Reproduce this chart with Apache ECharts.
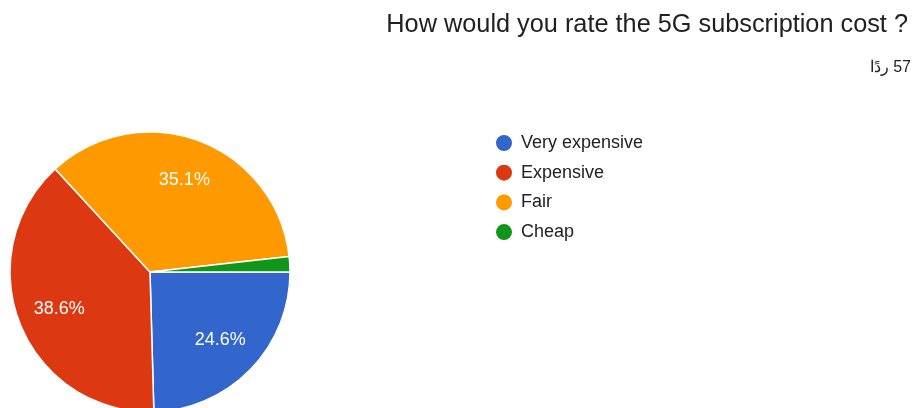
<!DOCTYPE html>
<html>
<head>
<meta charset="utf-8">
<script src="https://cdn.jsdelivr.net/npm/echarts@6/dist/echarts.min.js"></script>
<style>
  html, body { margin: 0; padding: 0; background: #fff; }
  #chart { width: 914px; height: 408px; }
</style>
</head>
<body>
<div id="chart"></div>
<script>
// Survey answers: "How would you rate the 5G subscription cost ?" (57 responses)
const categories = ['Very expensive', 'Expensive', 'Fair', 'Cheap'];
const responses = [14, 22, 20, 1];
const colors = ['#3366cc', '#dc3912', '#ff9900', '#109618'];
const titleText = 'How would you rate the 5G subscription cost ?';
const responseCountText = '57 ردًا';

const FONT = '"Liberation Sans", Arial, Helvetica, sans-serif';
const pieData = categories.map((name, i) => ({ name, value: responses[i] }));
const totalCount = responses.reduce((a, b) => a + b, 0);

const chart = echarts.init(document.getElementById('chart'), null, { renderer: 'canvas' });

chart.setOption({
  animation: false,
  color: colors,
  title: [
    {
      text: titleText,
      right: 6,
      top: 13,
      padding: 0,
      textStyle: { fontFamily: FONT, fontSize: 25.3, fontWeight: 'normal', color: '#212121' }
    },
    {
      // right-to-left caption: the RLM keeps the number on the right
      text: '\u200F' + responseCountText,
      right: 3,
      top: 60,
      padding: 0,
      textStyle: { fontFamily: FONT, fontSize: 16, fontWeight: 'normal', color: '#212121' }
    }
  ],
  legend: {
    orient: 'vertical',
    left: 489,
    top: 128,
    icon: 'circle',
    itemWidth: 18,
    itemHeight: 18,
    itemGap: 9.7,
    selectedMode: false,
    data: categories,
    textStyle: {
      fontFamily: FONT,
      fontSize: 18,
      lineHeight: 18,
      color: '#222222',
      padding: [0, 0, 0, 3]
    }
  },
  series: [
    {
      // filled slices
      type: 'pie',
      center: [150, 272],
      radius: [0, 140],
      startAngle: 0,
      clockwise: true,
      silent: true,
      label: { show: false },
      labelLine: { show: false },
      itemStyle: { borderColor: '#ffffff', borderWidth: 1.5 },
      data: pieData
    },
    {
      // transparent ring that carries the percentage labels
      type: 'pie',
      center: [150, 272],
      radius: [50, 140],
      startAngle: 0,
      clockwise: true,
      silent: true,
      itemStyle: { color: 'rgba(0,0,0,0)' },
      label: {
        show: true,
        position: 'inside',
        fontFamily: FONT,
        fontSize: 18,
        color: '#ffffff',
        formatter: (p) => (p.value / totalCount >= 0.05 ? (p.value / totalCount * 100).toFixed(1) + '%' : '')
      },
      labelLine: { show: false },
      data: pieData
    }
  ]
});
</script>
</body>
</html>
